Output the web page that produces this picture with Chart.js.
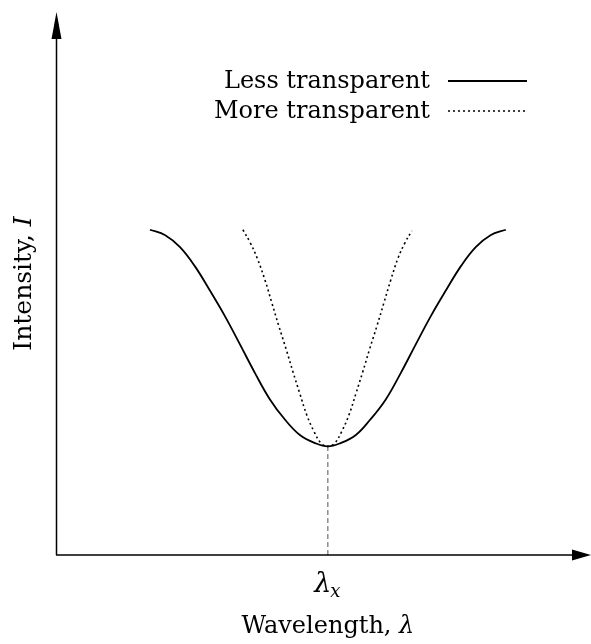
<!DOCTYPE html>
<html lang="en">
<head>
  <meta charset="UTF-8" />
  <title>Intensity vs Wavelength</title>
  <script src="https://cdn.jsdelivr.net/npm/chart.js"></script>
  <style>
    body {
      margin: 0;
      background: #fff;
    }
  </style>
</head>
<body>
  <canvas id="chart" width="591" height="644"></canvas>

  <script>
    // values (x: 0-100 along the wavelength axis, y: 0-100 intensity)
    const lessX = [17.6, 20.5, 23.3, 26.1, 28.9, 31.8, 34.7, 37.5, 40.3, 43.2, 46.0, 48.9, 51.3,
                   53.7, 56.6, 59.3, 62.3, 65.1, 67.9, 70.8, 73.7, 76.5, 79.3, 82.1, 85.0];
    const lessY = [59.9, 58.9, 56.7, 53.2, 48.8, 44.0, 38.7, 33.5, 28.7, 24.9, 22.1, 20.6, 20.0,
                   20.6, 22.1, 24.9, 28.7, 33.5, 38.7, 44.0, 48.8, 53.2, 56.7, 58.9, 59.9];

    const moreX = [35.2, 36.6, 37.9, 39.4, 40.7, 42.0, 43.4, 44.7, 46.0, 47.3, 48.7, 50.0, 51.3,
                   52.6, 53.9, 55.3, 56.6, 57.9, 59.2, 60.6, 61.9, 63.2, 64.6, 65.9, 67.2];
    const moreY = [59.9, 57.5, 54.7, 50.6, 46.4, 42.2, 37.9, 33.7, 29.7, 25.8, 22.7, 20.6, 20.0,
                   20.6, 22.7, 25.8, 29.7, 33.7, 37.9, 42.2, 46.4, 50.6, 54.7, 57.5, 59.7];

    const lambdaX = 51.3;
    const markerY = [0, 20.0];

    const seriesLabels = ['Less transparent', 'More transparent'];

    const SERIF = '"DejaVu Serif", "Liberation Serif", serif';

    function pts(xs, ys) {
      return xs.map((x, i) => ({ x: x, y: ys[i] }));
    }

    // axes with arrow heads, the lambda_x label, axis titles and the legend
    const decorations = {
      id: 'decorations',
      afterDraw(chart) {
        const ctx = chart.ctx;
        const a = chart.chartArea;
        const xs = chart.scales.x;
        ctx.save();
        ctx.strokeStyle = '#000';
        ctx.fillStyle = '#000';
        ctx.lineWidth = 1.5;

        // y axis
        ctx.beginPath();
        ctx.moveTo(a.left - 0.5, a.bottom);
        ctx.lineTo(a.left - 0.5, a.top + 20);
        ctx.stroke();
        ctx.beginPath();
        ctx.moveTo(a.left - 0.5, a.top);
        ctx.lineTo(a.left - 5.5, a.top + 27);
        ctx.lineTo(a.left + 4.5, a.top + 27);
        ctx.closePath();
        ctx.fill();

        // x axis
        ctx.beginPath();
        ctx.moveTo(a.left - 1, a.bottom);
        ctx.lineTo(a.right - 10, a.bottom);
        ctx.stroke();
        ctx.beginPath();
        ctx.moveTo(a.right + 6, a.bottom);
        ctx.lineTo(a.right - 13, a.bottom - 5.5);
        ctx.lineTo(a.right - 13, a.bottom + 5.5);
        ctx.closePath();
        ctx.fill();

        // lambda_x tick label
        const lx = xs.getPixelForValue(lambdaX);
        ctx.textBaseline = 'alphabetic';
        ctx.font = 'italic 27px ' + SERIF;
        const lw = ctx.measureText('λ').width;
        ctx.font = 'italic 18px ' + SERIF;
        const sw = ctx.measureText('x').width;
        let sx = lx - (lw + sw) / 2;
        ctx.font = 'italic 27px ' + SERIF;
        ctx.textAlign = 'left';
        ctx.fillText('λ', sx, 592);
        ctx.font = 'italic 18px ' + SERIF;
        ctx.fillText('x', sx + lw - 1, 597);

        // x title
        ctx.font = '24px ' + SERIF;
        const t1 = 'Wavelength, ';
        const w1 = ctx.measureText(t1).width;
        ctx.font = 'italic 24px ' + SERIF;
        const w2 = ctx.measureText('λ').width;
        sx = lx - (w1 + w2) / 2;
        ctx.font = '24px ' + SERIF;
        ctx.fillText(t1, sx, 633);
        ctx.font = 'italic 24px ' + SERIF;
        ctx.fillText('λ', sx + w1, 633);

        // y title
        ctx.save();
        ctx.translate(31, (a.top + a.bottom) / 2);
        ctx.rotate(-Math.PI / 2);
        ctx.font = '25px ' + SERIF;
        const y1 = 'Intensity, ';
        const yw1 = ctx.measureText(y1).width;
        ctx.font = 'italic 25px ' + SERIF;
        const yw2 = ctx.measureText('I').width;
        ctx.font = '25px ' + SERIF;
        ctx.fillText(y1, -(yw1 + yw2) / 2, 0);
        ctx.font = 'italic 25px ' + SERIF;
        ctx.fillText('I', -(yw1 + yw2) / 2 + yw1, 0);
        ctx.restore();

        // legend: text right-aligned, line sample to the right
        const rows = [88, 118];
        chart.data.datasets.slice(0, 2).forEach((ds, i) => {
          ctx.font = '24px ' + SERIF;
          ctx.textAlign = 'right';
          ctx.fillText(ds.label, 430, rows[i]);
          ctx.beginPath();
          ctx.setLineDash(ds.borderDash || []);
          ctx.lineWidth = ds.borderWidth;
          ctx.moveTo(448, rows[i] - 7);
          ctx.lineTo(527, rows[i] - 7);
          ctx.stroke();
          ctx.setLineDash([]);
        });

        ctx.restore();
      }
    };

    new Chart(document.getElementById('chart'), {
      type: 'scatter',
      data: {
        datasets: [
          {
            label: seriesLabels[0],
            data: pts(lessX, lessY),
            showLine: true,
            borderColor: '#000',
            borderWidth: 1.8,
            pointRadius: 0,
            tension: 0.4
          },
          {
            label: seriesLabels[1],
            data: pts(moreX, moreY),
            showLine: true,
            borderColor: '#000',
            borderWidth: 1.6,
            borderDash: [2, 3],
            pointRadius: 0,
            tension: 0.4
          },
          {
            label: 'marker',
            data: pts([lambdaX, lambdaX], markerY),
            showLine: true,
            borderColor: '#555',
            borderWidth: 1,
            borderDash: [5, 3],
            pointRadius: 0
          }
        ]
      },
      options: {
        responsive: false,
        animation: false,
        layout: {
          padding: { left: 57, top: 12, right: 6, bottom: 89 }
        },
        scales: {
          x: { type: 'linear', min: 0, max: 100, display: false },
          y: { type: 'linear', min: 0, max: 100, display: false }
        },
        plugins: {
          legend: { display: false },
          tooltip: { enabled: false }
        }
      },
      plugins: [decorations]
    });
  </script>
</body>
</html>
